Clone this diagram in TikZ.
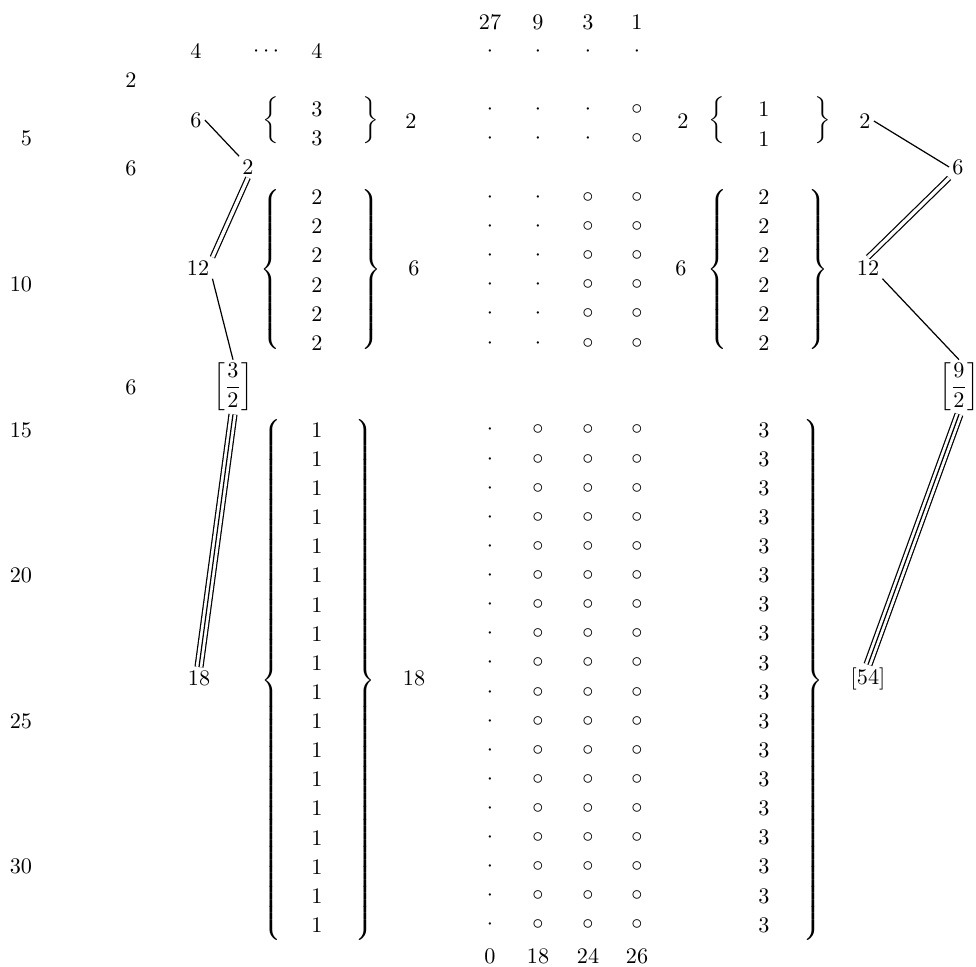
\documentclass[tikz,border=0pt]{standalone}
\usepackage{amsmath}
\usepackage{graphicx}
\newcommand{\Lbr}[1]{$\delimitershortfall=0pt\delimiterfactor=1000\nulldelimiterspace=0pt\left\{\vcenter{\hbox{\rule{0pt}{#1}}}\right.$}
\newcommand{\Rbr}[1]{$\delimitershortfall=0pt\delimiterfactor=1000\nulldelimiterspace=0pt\left.\vcenter{\hbox{\rule{0pt}{#1}}}\right\}$}
\newcommand{\sLbr}{\scalebox{1}[0.88]{$\bigg\{$}}
\newcommand{\sRbr}{\scalebox{1}[0.88]{$\bigg\}$}}
\newcommand{\sfrac}[2]{$\vcenter{\hbox{\scalebox{1}[0.9]{$\bigg[$}}}\dfrac{#1}{#2}\vcenter{\hbox{\scalebox{1}[0.9]{$\bigg]$}}}$}
\begin{document}
\begin{tikzpicture}[x={(0.45pt,0)}, y={(0,-0.45pt)},
  every node/.style={inner sep=0pt, outer sep=0pt},
  lbl/.style={inner sep=1.5pt},
  rownum/.style={anchor=east},
  conn/.style={line width=0.55pt},
  dbl/.style={line width=0.55pt, double, double distance=1.5pt},
  trpl/.style={line width=0.55pt, double, double distance=3pt}]
\useasboundingbox (0,0) rectangle (976,967);

% column headers and footers
\node (h1) at (490,22) {27};
\node (h2) at (538,22) {9};
\node (h3) at (588,22) {3};
\node (h4) at (637,22) {1};
\node (f1) at (490,956) {0};
\node (f2) at (538,956) {18};
\node (f3) at (588,956) {24};
\node (f4) at (637,956) {26};

% row numbers
\node[rownum] (n5) at (32,138.8) {5};
\node[rownum] (n10) at (32,284.8) {10};
\node[rownum] (n15) at (32,430) {15};
\node[rownum] (n20) at (32,575.6) {20};
\node[rownum] (n25) at (32,721.2) {25};
\node[rownum] (n30) at (32,866.8) {30};

% column at x=131
\node (c1) at (131,80.4) {2};
\node (c2) at (131,168) {6};
\node (c3) at (131,387) {6};

% row 2
\node (top4a) at (196,51.2) {4};
\node (topdots) at (268,51.2) {$\cdots$};
\node (top4b) at (317,51.2) {4};
\foreach \c/\x in {a/490,b/538,c/588,d/637} {
  \node (g2-\c) at (\x,51.2) {$\cdot$};
}

% rows 4,5
\foreach \k [evaluate=\k as \yy using {22+(\k-1)*29.2}] in {4,5} {
  \node (g\k-a) at (490,\yy) {$\cdot$};
  \node (g\k-b) at (538,\yy) {$\cdot$};
  \node (g\k-c) at (588,\yy) {$\cdot$};
  \node (g\k-d) at (637,\yy) {$\circ$};
  \node (t\k) at (317,\yy) {3};
  \node (u\k) at (764,\yy) {1};
}
% rows 7-12
\foreach \k [evaluate=\k as \yy using {22+(\k-1)*29.2}] in {7,...,12} {
  \node (g\k-a) at (490,\yy) {$\cdot$};
  \node (g\k-b) at (538,\yy) {$\cdot$};
  \node (g\k-c) at (588,\yy) {$\circ$};
  \node (g\k-d) at (637,\yy) {$\circ$};
  \node (t\k) at (317,\yy) {2};
  \node (u\k) at (764,\yy) {2};
}
% rows 15-32
\foreach \k [evaluate=\k as \yy using {430+(\k-15)*29.12}] in {15,...,32} {
  \node (g\k-a) at (490,\yy) {$\cdot$};
  \node (g\k-b) at (538,\yy) {$\circ$};
  \node (g\k-c) at (588,\yy) {$\circ$};
  \node (g\k-d) at (637,\yy) {$\circ$};
  \node (t\k) at (317,\yy) {1};
  \node (u\k) at (764,\yy) {3};
}

% left braces
\node (lb1) at (271,120.5) {\sLbr};
\node (rb1) at (371,120.5) {\sRbr};
\node (lb2) at (270,270) {\Lbr{72pt}};
\node (rb2) at (371,270) {\Rbr{72pt}};
\node (lb3) at (271,680) {\Lbr{229pt}};
\node (rb3) at (365,680) {\Rbr{229pt}};
\node (lm1) at (411,121) {2};
\node (lm2) at (414,268) {6};
\node (lm3) at (414,678) {18};

% right braces
\node (sl1) at (717,120.5) {\sLbr};
\node (sr1) at (823,120.5) {\sRbr};
\node (sl2) at (717,270) {\Lbr{72pt}};
\node (sr2) at (818,270) {\Rbr{72pt}};
\node (sr3) at (813,680) {\Rbr{229pt}};
\node (rm1) at (683,121) {2};
\node (rm2) at (681,268) {6};

% left tree
\node[lbl] (a6) at (196,120) {6};
\node[lbl] (a2) at (248,167) {2};
\node[lbl] (a12) at (198,268) {12};
\node[lbl] (af) at (233,387) {\sfrac{3}{2}};
\node[lbl] (a18) at (199,678) {18};

% right tree
\node[lbl] (b2) at (865,121) {2};
\node[lbl] (b6) at (958,167) {6};
\node[lbl] (b12) at (868,268) {12};
\node[lbl] (bf) at (959,387) {\sfrac{9}{2}};
\node[lbl] (b54) at (868,679) {[54]};

% connectors left
\draw[conn] (a6.east) -- (a2.north west);
\draw[dbl] (a2.south) -- (a12.north east);
\draw[conn] (a12.south east) -- (af.north);
\draw[trpl] (af.south) -- (a18.north);
\draw[conn] (af.south) -- (a18.north);

% connectors right
\draw[conn] (b2.east) -- (b6.west);
\draw[dbl] (b6.south west) -- (b12.north);
\draw[conn] (b12.south east) -- (bf.north);
\draw[trpl] (bf.south) -- (b54.north);
\draw[conn] (bf.south) -- (b54.north);
\end{tikzpicture}
\end{document}
